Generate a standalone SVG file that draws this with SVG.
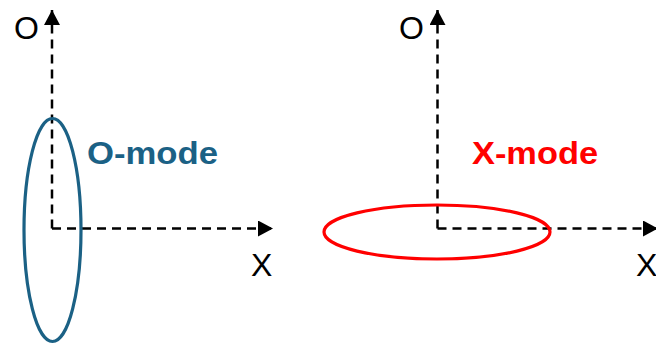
<svg xmlns="http://www.w3.org/2000/svg" width="656" height="345" viewBox="0 0 656 345">
<defs>
<style>
.axis{fill:none;stroke:#000;stroke-width:2.5;stroke-dasharray:9 6}
.lbl{font-family:"Liberation Sans",Arial,sans-serif;font-size:32px;fill:#000}
.mode{font-family:"Liberation Sans",Arial,sans-serif;font-size:32px;font-weight:bold}
</style>
<marker id="ah" viewBox="0 0 15 16" refX="15" refY="8" markerWidth="15" markerHeight="16" markerUnits="userSpaceOnUse" orient="auto">
<path d="M0,0 L15,8 L0,16 Z" fill="#000"/>
</marker>
</defs>
<g id="connectors">
<path class="axis" d="M52,228.5 V10" marker-end="url(#ah)"/>
<path class="axis" d="M52,228.5 H273" marker-end="url(#ah)"/>
<path class="axis" d="M437.5,228.5 V10" marker-end="url(#ah)"/>
<path class="axis" d="M437.5,228.5 H658" marker-end="url(#ah)"/>
</g>
<g id="o-mode">
<ellipse cx="52.5" cy="230" rx="28.5" ry="111.5" fill="none" stroke="#1b6185" stroke-width="3.2"/>
<text class="mode" x="87" y="164" fill="#1b6185" textLength="131" lengthAdjust="spacingAndGlyphs">O-mode</text>
</g>
<g id="x-mode">
<ellipse cx="437" cy="232" rx="113" ry="27" fill="none" stroke="#ff0000" stroke-width="3.2"/>
<text class="mode" x="472" y="164" fill="#ff0000" textLength="126" lengthAdjust="spacingAndGlyphs">X-mode</text>
</g>
<g id="labels">
<text class="lbl" x="14" y="39">O</text>
<text class="lbl" x="251" y="276">X</text>
<text class="lbl" x="399" y="39">O</text>
<text class="lbl" x="636" y="276">X</text>
</g>
</svg>
